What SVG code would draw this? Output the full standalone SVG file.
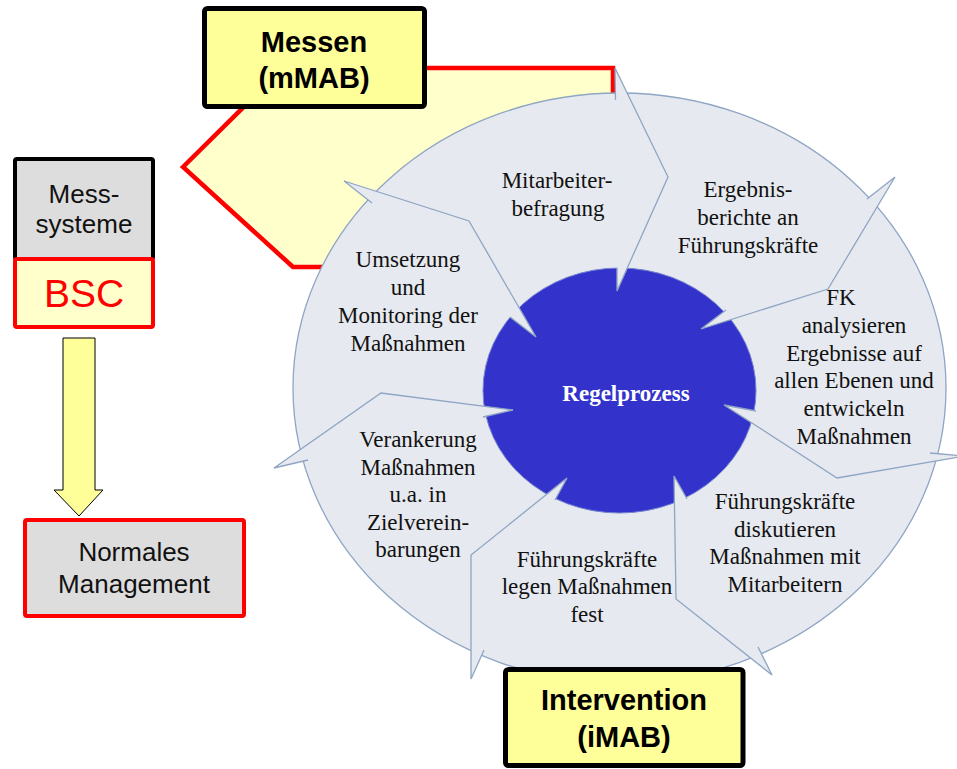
<svg xmlns="http://www.w3.org/2000/svg" width="957" height="769" viewBox="0 0 957 769">
<style>
.sans{font-family:"Liberation Sans",Arial,sans-serif}
.serif{font-family:"Liberation Serif","Times New Roman",serif;font-size:23px;fill:#111;text-anchor:middle}
.sep{fill:none;stroke:#8FA5C4;stroke-width:1.3;stroke-linejoin:miter}
.sepfill{fill:#E6E9EF;stroke:none}
.boxtxt{font-family:"Liberation Sans",Arial,sans-serif;font-size:26px;fill:#111;text-anchor:middle}
.bold{font-family:"Liberation Sans",Arial,sans-serif;font-size:29px;font-weight:bold;fill:#000;text-anchor:middle}
</style>
<rect width="957" height="769" fill="#FFFFFF"/>

<g id="messen-area">
<polygon points="183,167 283,68 613,68 613,267 293,267" fill="#FFFFCC" stroke="#FF0000" stroke-width="4.5" stroke-linejoin="miter"/>
</g>

<g id="cycle">
<ellipse cx="619.5" cy="388" rx="326.5" ry="295" fill="#E6E9EF" stroke="#8FA5C4" stroke-width="1.3"/>
<ellipse id="regelprozess" cx="619.5" cy="390.5" rx="136.5" ry="122.5" fill="#3333CC" stroke="#7585D0" stroke-width="1"/>
</g>

<g id="connectors">
<polygon class="sepfill" points="615.5,100 615,68 668,177"/>
<polygon class="sepfill" points="668,177 617,291 617,268"/>
<polyline class="sep" points="615.5,100 615,68 668,177 617,291 617,268"/>

<polygon class="sepfill" points="867,199 895,177 828,289"/>
<polygon class="sepfill" points="828,289 701,329 726,310"/>
<polyline class="sep" points="867,199 895,177 828,289 701,329 726,310"/>

<polygon class="sepfill" points="930,453 965,456 837,478"/>
<polygon class="sepfill" points="837,478 724,405 756,411"/>
<polyline class="sep" points="930,453 965,456 837,478 724,405 756,411"/>

<polygon class="sepfill" points="758,647 772,675 676,599"/>
<polygon class="sepfill" points="676,599 674,476 687,499"/>
<polyline class="sep" points="758,647 772,675 676,599 674,476 687,499"/>

<polygon class="sepfill" points="484,650 471,679 471,555"/>
<polygon class="sepfill" points="471,555 567,478 555,500"/>
<polyline class="sep" points="484,650 471,679 471,555 567,478 555,500"/>

<polygon class="sepfill" points="308,460 274,468 381,393"/>
<polygon class="sepfill" points="381,393 513,410 483,417"/>
<polyline class="sep" points="308,460 274,468 381,393 513,410 483,417"/>

<polygon class="sepfill" points="372,203 344,181 469,221"/>
<polygon class="sepfill" points="469,221 536,337 510,317"/>
<polyline class="sep" points="372,203 344,181 469,221 536,337 510,317"/>

<polygon id="down-arrow" points="63,338 95,338 95,490 103,490 79,516 54,490 63,490" fill="#FFFF99" stroke="#000" stroke-width="1"/>
</g>

<g id="node-regel-text">
<text x="626" y="401" style="font-family:'Liberation Serif','Times New Roman',serif;font-size:23px;font-weight:bold;fill:#FFFFFF;text-anchor:middle">Regelprozess</text>
</g>

<g id="node-mitarbeiterbefragung">
<text class="serif" x="557" y="188">Mitarbeiter-</text>
<text class="serif" x="558" y="216">befragung</text>
</g>

<g id="node-ergebnisberichte">
<text class="serif" x="748" y="197">Ergebnis-</text>
<text class="serif" x="748" y="225">berichte an</text>
<text class="serif" x="748" y="253">Führungskräfte</text>
</g>

<g id="node-fk-analysieren">
<text class="serif" x="841" y="305">FK</text>
<text class="serif" x="854" y="333">analysieren</text>
<text class="serif" x="854" y="361">Ergebnisse auf</text>
<text class="serif" x="854" y="388">allen Ebenen und</text>
<text class="serif" x="854" y="416">entwickeln</text>
<text class="serif" x="854" y="444">Maßnahmen</text>
</g>

<g id="node-diskutieren">
<text class="serif" x="785" y="509">Führungskräfte</text>
<text class="serif" x="785" y="537">diskutieren</text>
<text class="serif" x="785" y="564">Maßnahmen mit</text>
<text class="serif" x="785" y="592">Mitarbeitern</text>
</g>

<g id="node-legen-fest">
<text class="serif" x="587" y="567">Führungskräfte</text>
<text class="serif" x="587" y="594">legen Maßnahmen</text>
<text class="serif" x="587" y="622">fest</text>
</g>

<g id="node-verankerung">
<text class="serif" x="418" y="447">Verankerung</text>
<text class="serif" x="418" y="475">Maßnahmen</text>
<text class="serif" x="418" y="502">u.a. in</text>
<text class="serif" x="418" y="530">Zielverein-</text>
<text class="serif" x="418" y="557">barungen</text>
</g>

<g id="node-umsetzung">
<text class="serif" x="408" y="267">Umsetzung</text>
<text class="serif" x="408" y="295">und</text>
<text class="serif" x="408" y="323">Monitoring der</text>
<text class="serif" x="408" y="351">Maßnahmen</text>
</g>

<g id="node-messen">
<rect x="204.5" y="8.5" width="220" height="98" rx="3" fill="#FFFF99" stroke="#000" stroke-width="5"/>
<text class="bold" x="314" y="52">Messen</text>
<text class="bold" x="314" y="88">(mMAB)</text>
</g>

<g id="node-messsysteme">
<rect x="15" y="159" width="138" height="100" rx="2" fill="#DDDDDD" stroke="#000" stroke-width="4"/>
<text class="boxtxt" x="84" y="203">Mess-</text>
<text class="boxtxt" x="84" y="233">systeme</text>
</g>

<g id="node-bsc">
<rect x="15" y="259" width="138" height="68" rx="2" fill="#FFFFCC" stroke="#FF0000" stroke-width="4"/>
<text x="84" y="307" style="font-family:'Liberation Sans',Arial,sans-serif;font-size:39px;fill:#FF0000;text-anchor:middle">BSC</text>
</g>

<g id="node-normales">
<rect x="25" y="520" width="219" height="96" rx="2" fill="#DDDDDD" stroke="#FF0000" stroke-width="4"/>
<text class="boxtxt" x="134" y="561">Normales</text>
<text class="boxtxt" x="134" y="593">Management</text>
</g>

<g id="node-intervention">
<rect x="505.5" y="669.5" width="237.5" height="96" rx="3" fill="#FFFF99" stroke="#000" stroke-width="5"/>
<text class="bold" x="624" y="710">Intervention</text>
<text class="bold" x="624" y="747">(iMAB)</text>
</g>
</svg>
